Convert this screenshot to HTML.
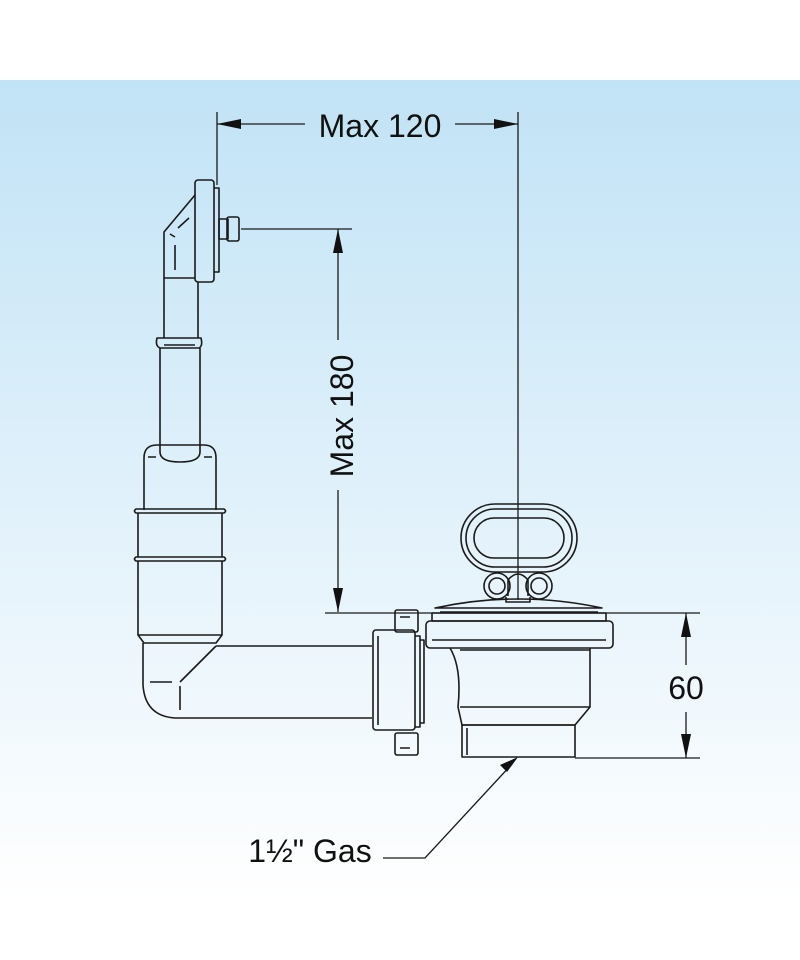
<!DOCTYPE html>
<html><head><style>
html,body{margin:0;padding:0;width:800px;height:960px;overflow:hidden;background:#fff}
svg{display:block}
text{font-family:"Liberation Sans",Arial,sans-serif;fill:#111}
</style></head><body>
<svg width="800" height="960" viewBox="0 0 800 960">
<defs>
<linearGradient id="bg" x1="0" y1="0" x2="0" y2="1">
<stop offset="0" stop-color="#c1e3f6"/>
<stop offset="0.55" stop-color="#e3f2fb"/>
<stop offset="1" stop-color="#ffffff"/>
</linearGradient>
</defs>
<rect x="0" y="80" width="800" height="820" fill="url(#bg)"/>
<g stroke="#1a1a1a" stroke-width="1.3" fill="none">
<line x1="217" y1="112" x2="217" y2="185"/>
<line x1="518" y1="112" x2="518" y2="600"/>
<line x1="217" y1="124" x2="305" y2="124"/>
<line x1="455" y1="124" x2="518" y2="124"/>
<line x1="241" y1="229" x2="352" y2="229"/>
<line x1="338" y1="229" x2="338" y2="340"/>
<line x1="338" y1="490" x2="338" y2="612"/>
<line x1="325" y1="613" x2="700" y2="613"/>
<line x1="575" y1="758" x2="700" y2="758"/>
<line x1="686" y1="613" x2="686" y2="665"/>
<line x1="686" y1="712" x2="686" y2="758"/>
<polyline points="383,858 425,858 512,764"/>
</g>
<g fill="#111">
<polygon points="217,124 241,119 241,129"/>
<polygon points="518,124 494,119 494,129"/>
<polygon points="338,229 333,253 343,253"/>
<polygon points="338,612 333,588 343,588"/>
<polygon points="686,613 681,637 691,637"/>
<polygon points="686,758 681,734 691,734"/>
<polygon points="518,757 500,765 507,772"/>
</g>
<text x="380" y="137" font-size="32" text-anchor="middle">Max 120</text>
<text transform="translate(353,416) rotate(-90)" font-size="32" text-anchor="middle">Max 180</text>
<text x="686" y="699" font-size="32" text-anchor="middle">60</text>
<text x="310" y="862" font-size="32" text-anchor="middle">1½" Gas</text>
<g stroke="#1a1a1a" stroke-width="1.6" fill="none" stroke-linejoin="round">
<rect x="195" y="180" width="19" height="102" rx="3"/>
<path d="M214,188 H219 V272 H214"/>
<rect x="219" y="219" width="9" height="20"/>
<rect x="227" y="217" width="12" height="24" rx="2"/>
<path d="M195,195 L164,232 V278 H195"/>
<path d="M170,234 L175,237 M178,228 L189,218 M175,245 V270"/>
<path d="M164,278 V338 M198,282 V338"/>
<path d="M157,338 H201 Q203,346 199,348 H160 Q155,346 157,338 Z"/>
<path d="M164,345 H195"/>
<path d="M160,348 V445 M200,348 V445"/>
<path d="M144,510 V458 Q144,445 157,445 H204 Q216,445 216,458 V510"/>
<path d="M160,445 V452 Q160,462 180,462 Q200,462 200,452 V445"/>
<path d="M148,457 H156 M204,457 H212"/>
<path d="M136,509 H224 Q227,511 224,513 H136 Q133,511 136,509 Z"/>
<path d="M136,557 H224 Q227,559 224,561 H136 Q133,559 136,557 Z"/>
<path d="M138,513 V557 M222,513 V557 M138,561 V635 M222,561 V635"/>
<path d="M138,635 H222 L216,643 H144 Z"/>
<path d="M143,643 V685 Q145,716 175,718 H372"/>
<path d="M216,646 H372"/>
<path d="M216,646 L180,682 M150,682 H172 M180,686 V710"/>
<rect x="373" y="630" width="42" height="100" rx="3"/>
<line x1="378" y1="636" x2="378" y2="725"/>
<rect x="395" y="610" width="23" height="22" rx="2"/>
<rect x="395" y="733" width="23" height="22" rx="2"/>
<path d="M400,617 H410 M400,748 H410"/>
<path d="M415,636 H420 V727 H415 M420,640 H424 V723 H420"/>
<rect x="432" y="613" width="174" height="8"/>
<rect x="426" y="621" width="187" height="27" rx="4"/>
<line x1="432" y1="640" x2="606" y2="640"/>
<path d="M450,648 Q462,668 458,707 L462,725 H575 L590,707 V648"/>
<line x1="460" y1="707" x2="590" y2="707"/>
<line x1="460" y1="650" x2="590" y2="650"/>
<rect x="462" y="725" width="113" height="32"/>
<line x1="467" y1="728" x2="467" y2="755"/>
<path d="M435,608 Q518,590 602,608 Z"/>
<path d="M440,612 H598"/>
<rect x="461" y="504" width="116" height="68" rx="34"/>
<rect x="466" y="509" width="106" height="58" rx="29"/>
<rect x="474" y="518" width="90" height="40" rx="20"/>
<circle cx="497" cy="586" r="13"/>
<circle cx="497" cy="586" r="8"/>
<circle cx="539" cy="586" r="13"/>
<circle cx="539" cy="586" r="8"/>
<path d="M508,596 V580 Q518,568 528,580 V596"/>
<path d="M506,597 V602 H530 V597"/>
</g>
</svg>
</body></html>
